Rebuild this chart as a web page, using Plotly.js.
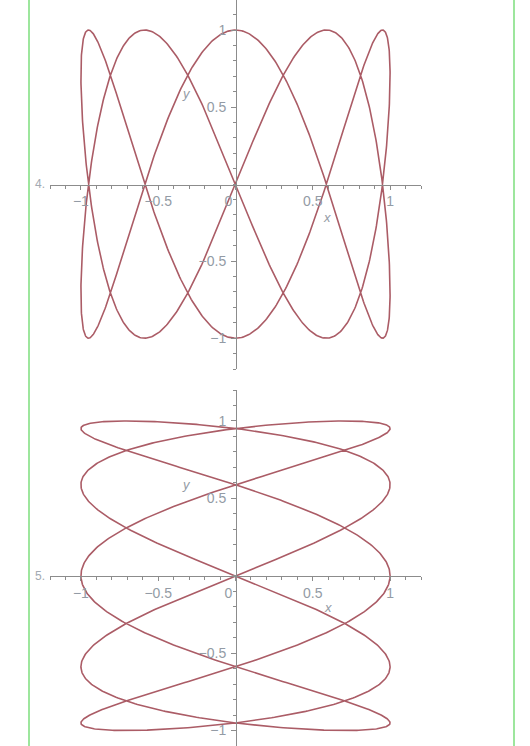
<!DOCTYPE html>
<html>
<head>
<meta charset="utf-8">
<script src="https://cdn.plot.ly/plotly-3.0.1.min.js"></script>
<style>
  html, body { margin: 0; padding: 0; background: #ffffff; }
  #chart { width: 530px; height: 746px; }
</style>
</head>
<body>
<div id="chart"></div>
<script>
// Parametric Lissajous curves
// plot 4: x = sin(2t), y = cos(5t); plot 5: x = cos(5t), y = sin(2t)
const plotNumbers = ['4.', '5.'];
const freqX = [2, 5];
const freqY = [5, 2];
const funcX = ['sin', 'cos'];
const funcY = ['cos', 'sin'];
const sampleCount = 1600;

const xTickVals = [-1, -0.5, 0, 0.5, 1];
const xTickText = ['\u22121', '\u22120.5', '0\u2003', '0.5', '1'];
const yTickVals = [-1, -0.5, 0.5, 1];
const yTickText = ['\u22121', '\u22120.5', '0.5', '1'];

const W = 530, H = 746;
const curveColor = '#ab5c66';
const axisColor = '#8c8c8c';
const labelColor = '#939ba5';

function curve(i) {
  const xs = [], ys = [];
  for (let k = 0; k <= sampleCount; k++) {
    const t = 2 * Math.PI * k / sampleCount;
    xs.push(Math[funcX[i]](freqX[i] * t));
    ys.push(Math[funcY[i]](freqY[i] * t));
  }
  return {xs, ys};
}

const c1 = curve(0), c2 = curve(1);
const traces = [
  {x: c1.xs, y: c1.ys, xaxis: 'x', yaxis: 'y', type: 'scatter', mode: 'lines',
   line: {color: curveColor, width: 1.6}, hoverinfo: 'skip'},
  {x: c2.xs, y: c2.ys, xaxis: 'x2', yaxis: 'y2', type: 'scatter', mode: 'lines',
   line: {color: curveColor, width: 1.6}, hoverinfo: 'skip'}
];

const tickFont = {family: 'Liberation Sans, Arial, sans-serif', size: 14, color: labelColor};

function xAxis(posPaper) {
  return {
    domain: [50 / W, 421 / W], range: [-1.2, 1.2], anchor: 'free', position: posPaper,
    showgrid: false, zeroline: false, showline: true, linecolor: axisColor, linewidth: 1,
    ticks: 'outside', ticklen: 4, tickcolor: axisColor, tickwidth: 1,
    tickmode: 'array', tickvals: xTickVals, ticktext: xTickText, tickfont: tickFont,
    minor: {tickmode: 'linear', tick0: 0, dtick: 0.1, ticks: 'outside', ticklen: 3, tickcolor: axisColor, tickwidth: 1, showgrid: false},
    fixedrange: true
  };
}
function yAxis(domain, range) {
  return {
    domain: domain, range: range, anchor: 'free', position: 236 / W,
    showgrid: false, zeroline: false, showline: true, linecolor: axisColor, linewidth: 1,
    ticks: 'outside', ticklen: 5, tickcolor: axisColor, tickwidth: 1,
    tickmode: 'array', tickvals: yTickVals, ticktext: yTickText, tickfont: tickFont,
    minor: {tickmode: 'linear', tick0: 0, dtick: 0.1, ticks: 'outside', ticklen: 3, tickcolor: axisColor, tickwidth: 1, showgrid: false},
    ticklabelstandoff: 2,
    fixedrange: true
  };
}

const axisTitleFont = {family: 'Liberation Sans, Arial, sans-serif', size: 13, color: labelColor};
const numFont = {family: 'Liberation Sans, Arial, sans-serif', size: 12, color: '#a3aab2'};

const layout = {
  width: W, height: H,
  margin: {l: 0, r: 0, t: 0, b: 0},
  paper_bgcolor: '#ffffff', plot_bgcolor: 'rgba(0,0,0,0)',
  showlegend: false,
  xaxis: xAxis(1 - 184.5 / H),
  yaxis: yAxis([1 - 369 / H, 1], [-1.2, 1.195]),
  xaxis2: xAxis(1 - 576 / H),
  yaxis2: yAxis([0, 1 - 390 / H], [-1.1, 1.2]),
  shapes: [
    {type: 'line', xref: 'paper', yref: 'paper', x0: 29 / W, x1: 29 / W, y0: 0, y1: 1,
     line: {color: '#9de69d', width: 2}},
    {type: 'line', xref: 'paper', yref: 'paper', x0: 514 / W, x1: 514 / W, y0: 0, y1: 1,
     line: {color: '#9de69d', width: 2}}
  ],
  annotations: [
    {text: plotNumbers[0], xref: 'paper', yref: 'paper', x: 33 / W, y: 1 - 184 / H,
     xanchor: 'left', yanchor: 'middle', showarrow: false, font: numFont},
    {text: plotNumbers[1], xref: 'paper', yref: 'paper', x: 33 / W, y: 1 - 576 / H,
     xanchor: 'left', yanchor: 'middle', showarrow: false, font: numFont},
    {text: '<i>x</i>', xref: 'x', yref: 'y', x: 0.59, y: -0.215, showarrow: false, font: axisTitleFont},
    {text: '<i>y</i>', xref: 'x', yref: 'y', x: -0.32, y: 0.59, showarrow: false, font: axisTitleFont},
    {text: '<i>x</i>', xref: 'x2', yref: 'y2', x: 0.60, y: -0.205, showarrow: false, font: axisTitleFont},
    {text: '<i>y</i>', xref: 'x2', yref: 'y2', x: -0.32, y: 0.59, showarrow: false, font: axisTitleFont}
  ]
};

Plotly.newPlot('chart', traces, layout, {displayModeBar: false, staticPlot: true});
</script>
</body>
</html>
